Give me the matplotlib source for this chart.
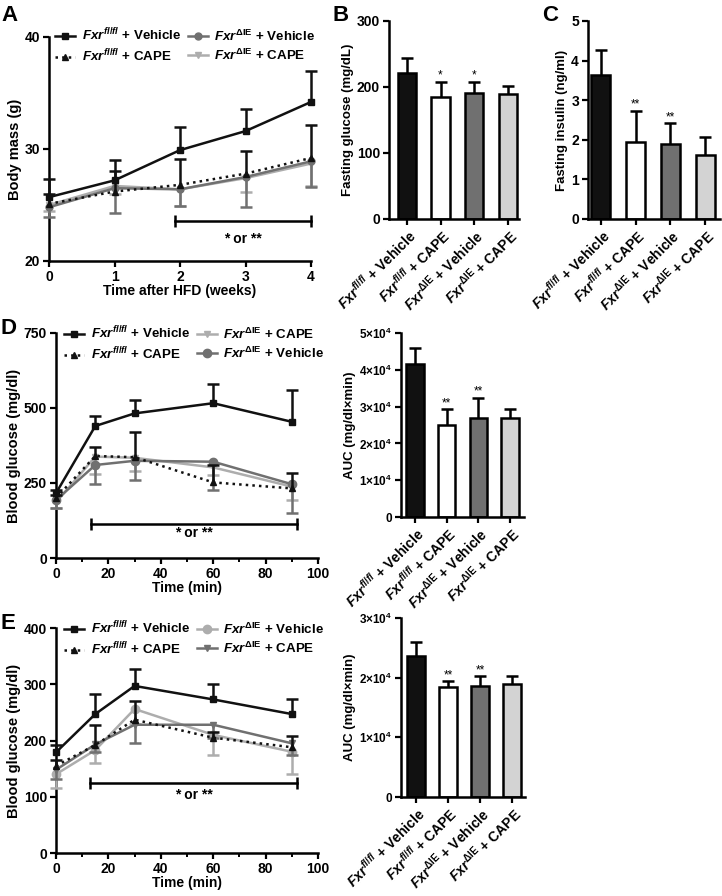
import matplotlib
matplotlib.use('Agg')
import matplotlib.pyplot as plt
import numpy as np
from matplotlib.lines import Line2D
from matplotlib.ticker import FixedLocator, MultipleLocator

plt.rcParams['font.family'] = ['Liberation Sans', 'DejaVu Sans']
plt.rcParams['font.weight'] = 'bold'
plt.rcParams['axes.labelweight'] = 'bold'
plt.rcParams['mathtext.fontset'] = 'custom'
plt.rcParams['mathtext.rm'] = 'Liberation Sans:bold'
plt.rcParams['mathtext.it'] = 'Liberation Sans:italic:bold'
plt.rcParams['mathtext.bf'] = 'Liberation Sans:bold'
plt.rcParams['mathtext.default'] = 'regular'

W, H = 722, 896

# colours
c_black = '#111111'
c_dark = '#707070'
c_light = '#adadad'
bar_colors = ['#111111', '#ffffff', '#707070', '#d3d3d3']

# group names
lab_fl_veh = r'$\mathit{Fxr}^{\mathit{fl/fl}}$ + Vehicle'
lab_fl_cape = r'$\mathit{Fxr}^{\mathit{fl/fl}}$ + CAPE'
lab_ie_veh = r'$\mathit{Fxr}^{\mathrm{ΔIE}}$ + Vehicle'
lab_ie_cape = r'$\mathit{Fxr}^{\mathrm{ΔIE}}$ + CAPE'
bar_labels = [lab_fl_veh, lab_fl_cape, lab_ie_veh, lab_ie_cape]

# ---- A: body mass
weeks = [0, 1, 2, 3, 4]
a_fl_veh = [25.7, 27.2, 29.9, 31.6, 34.2]
a_fl_veh_err = [1.6, 1.8, 2.1, 2.0, 2.8]
a_fl_cape = [25.1, 26.2, 26.8, 27.8, 29.2]
a_fl_cape_err = [0.9, 1.8, 2.3, 2.0, 2.9]
a_ie_veh = [24.8, 26.5, 26.4, 27.5, 28.9]
a_ie_veh_err = [0.9, 2.2, 1.5, 2.7, 2.3]
a_ie_cape = [25.0, 26.7, 26.4, 27.4, 28.7]
a_ie_cape_err = [0.5, 0.7, 1.5, 1.2, 2.0]

# ---- B / C: fasting glucose, insulin
b_glucose = [221.8, 185.5, 190.6, 189.6]
b_glucose_err = [22.0, 22.7, 17.6, 12.0]
b_stars = ['', '*', '*', '']
c_insulin = [3.64, 1.95, 1.89, 1.62]
c_insulin_err = [0.63, 0.78, 0.53, 0.44]
c_stars = ['', '**', '**', '']

# ---- D: GTT
time_min = [0, 15, 30, 60, 90]
d_fl_veh = [216, 440, 482, 516, 454]
d_fl_veh_err = [12, 33, 45, 64, 105]
d_fl_cape = [200, 340, 336, 252, 232]
d_fl_cape_err = [10, 31, 85, 58, 52]
d_ie_cape = [185, 338, 334, 302, 238]
d_ie_cape_err = [18, 59, 44, 25, 45]
d_ie_veh = [193, 310, 324, 321, 246]
d_ie_veh_err = [26, 64, 64, 94, 95]
d_auc = [4.15e4, 2.51e4, 2.70e4, 2.68e4]
d_auc_err = [0.43e4, 0.42e4, 0.54e4, 0.25e4]
d_stars = ['', '**', '**', '']

# ---- E: ITT
e_fl_veh = [179, 247, 297, 273, 247]
e_fl_veh_err = [13, 35, 30, 27, 26]
e_fl_cape = [155, 192, 237, 205, 188]
e_fl_cape_err = [10, 36, 34, 10, 20]
e_ie_veh = [140, 183, 256, 210, 180]
e_ie_veh_err = [25, 23, 26, 35, 40]
e_ie_cape = [148, 193, 228, 228, 195]
e_ie_cape_err = [16, 13, 32, 23, 20]
e_auc = [2.37e4, 1.85e4, 1.86e4, 1.89e4]
e_auc_err = [0.22e4, 0.09e4, 0.16e4, 0.14e4]
e_stars = ['', '**', '**', '']

# significance brackets (x0, x1, y, text y)
a_sig = (1.93, 4.0, 23.6, 22.0)
d_sig = (13.5, 92, 114, 83)
e_sig = (13, 92, 125, 104)

fig = plt.figure(figsize=(W / 100, H / 100), dpi=100)


def rect(l, t, r, b):
    return [l / W, 1 - b / H, (r - l) / W, (b - t) / H]


def style(ax):
    for s in ['top', 'right']:
        ax.spines[s].set_visible(False)
    for s in ['left', 'bottom']:
        ax.spines[s].set_linewidth(1.8)
    ax.tick_params(width=1.6, length=4.5, labelsize=10, pad=2)
    ax.tick_params(which='minor', width=1.4, length=3)


def one_side_err(ax, x, y, err, color, up=True, z=3):
    y = np.array(y, dtype=float)
    e = np.array(err, dtype=float)
    end = y + e if up else y - e
    ax.vlines(x, y, end, color=color, lw=1.8, zorder=z, clip_on=False)
    ax.plot(x, end, ls='none', marker='_', ms=8, mew=1.8, color=color,
            zorder=z, clip_on=False)


def series(ax, x, y, err, color, marker, ls, up, ms, z):
    one_side_err(ax, x, y, err, color, up, z)
    ax.plot(x, y, color=color, marker=marker, ls=ls, lw=1.8, ms=ms,
            zorder=z + 0.5, clip_on=False)
    return Line2D([], [], color=color, marker=marker, ls=ls, lw=1.8, ms=ms)


def sig(ax, spec):
    x0, x1, y, ty = spec
    ax.plot([x0, x1], [y, y], color='black', lw=1.8, marker='|', ms=8,
            mew=1.8, clip_on=False)
    ax.text((x0 + x1) / 2, ty, '* or **', ha='center', va='center',
            fontsize=10)


def bars(ax, vals, errs, stars, ylim, xlim):
    x = np.arange(len(vals))
    ax.bar(x, vals, width=0.55, color=bar_colors, edgecolor='black',
           linewidth=1.8, zorder=2)
    one_side_err(ax, x, vals, errs, 'black', True, 3)
    for xi, v, e, s in zip(x, vals, errs, stars):
        if s:
            ax.text(xi, v + e, s, ha='center', va='bottom', fontsize=8.5,
                    fontweight='normal')
    ax.set_xticks(x)
    ax.set_xticklabels(bar_labels, rotation=45, ha='right',
                       rotation_mode='anchor', fontsize=7.9)
    ax.set_xlim(*xlim)
    ax.set_ylim(*ylim)
    style(ax)
    ax.tick_params(axis='x', pad=1)


def legend(ax, handles, labels, x, y):
    fig.legend(handles, labels, loc='upper left',
               bbox_to_anchor=(x / W, 1 - y / H), ncol=2, frameon=False,
               fontsize=9.6, handlelength=1.5, handletextpad=0.5,
               columnspacing=0.5, labelspacing=0.3, borderpad=0,
               borderaxespad=0)


# ---------- panel A
ax = fig.add_axes(rect(49, 37, 311, 261))
h1 = series(ax, weeks, a_ie_cape, a_ie_cape_err, c_light, 'v', '-', False, 5, 3)
h2 = series(ax, weeks, a_ie_veh, a_ie_veh_err, c_dark, 'o', '-', False, 5, 4)
h3 = series(ax, weeks, a_fl_cape, a_fl_cape_err, c_black, '^', ':', True, 4, 5)
h4 = series(ax, weeks, a_fl_veh, a_fl_veh_err, c_black, 's', '-', True, 5, 6)
ax.set_xlim(0, 4)
ax.set_ylim(20, 40)
ax.set_xticks(weeks)
ax.set_yticks([20, 30, 40])
ax.set_xlabel('Time after HFD (weeks)', fontsize=10, labelpad=0)
ax.set_ylabel('Body mass (g)', fontsize=10.5, labelpad=2)
style(ax)
sig(ax, a_sig)
legend(ax, [h4, h3, h2, h1], [lab_fl_veh, lab_fl_cape, lab_ie_veh, lab_ie_cape], 55, 27)
fig.text(1 / W, 1 - 5 / H, 'A', fontsize=16, va='top', ha='left')

# ---------- panel B
ax = fig.add_axes(rect(389, 21, 519, 219))
bars(ax, b_glucose, b_glucose_err, b_stars, (0, 300), (-0.53, 3.33))
ax.set_yticks([0, 100, 200, 300])
ax.set_ylabel('Fasting glucose (mg/dL)', fontsize=9.5, labelpad=2)
fig.text(333 / W, 1 - 5 / H, 'B', fontsize=16, va='top', ha='left')

# ---------- panel C
ax = fig.add_axes(rect(588, 21, 720, 219))
bars(ax, c_insulin, c_insulin_err, c_stars, (0, 5), (-0.37, 3.43))
ax.set_yticks([0, 1, 2, 3, 4, 5])
ax.set_ylabel('Fasting insulin (ng/ml)', fontsize=9.5, labelpad=2)
fig.text(542 / W, 1 - 5 / H, 'C', fontsize=16, va='top', ha='left')

# ---------- panel D
ax = fig.add_axes(rect(56, 333, 318, 558))
h1 = series(ax, time_min, d_ie_cape, d_ie_cape_err, c_light, 'v', '-', False, 5, 3)
h2 = series(ax, time_min, d_ie_veh, d_ie_veh_err, c_dark, 'o', '-', False, 6, 4)
h3 = series(ax, time_min, d_fl_cape, d_fl_cape_err, c_black, '^', ':', True, 4, 5)
h4 = series(ax, time_min, d_fl_veh, d_fl_veh_err, c_black, 's', '-', True, 5, 6)
ax.set_xlim(0, 100)
ax.set_ylim(0, 750)
ax.set_xticks([0, 20, 40, 60, 80, 100])
ax.xaxis.set_minor_locator(MultipleLocator(10))
ax.set_yticks([0, 250, 500, 750])
ax.set_xlabel('Time (min)', fontsize=10, labelpad=0)
ax.set_ylabel('Blood glucose (mg/dl)', fontsize=10.5, labelpad=2)
style(ax)
sig(ax, d_sig)
legend(ax, [h4, h3, h1, h2], [lab_fl_veh, lab_fl_cape, lab_ie_cape, lab_ie_veh], 64, 325)
fig.text(1 / W, 1 - 318 / H, 'D', fontsize=16, va='top', ha='left')

ax = fig.add_axes(rect(401, 333, 524, 517))
bars(ax, d_auc, d_auc_err, d_stars, (0, 5e4), (-0.44, 3.44))
ax.yaxis.set_major_locator(FixedLocator([0, 1e4, 2e4, 3e4, 4e4, 5e4]))
ax.set_yticklabels(['0'] + [f'{i}×10$^{{4}}$' for i in range(1, 6)])
ax.tick_params(axis='y', labelsize=8.5)
ax.set_ylabel('AUC (mg/dl×min)', fontsize=9.5, labelpad=2)

# ---------- panel E
ax = fig.add_axes(rect(56, 628, 318, 853))
h1 = series(ax, time_min, e_ie_veh, e_ie_veh_err, c_light, 'o', '-', False, 6, 3)
h2 = series(ax, time_min, e_ie_cape, e_ie_cape_err, c_dark, 'v', '-', False, 5, 4)
h3 = series(ax, time_min, e_fl_cape, e_fl_cape_err, c_black, '^', ':', True, 4, 5)
h4 = series(ax, time_min, e_fl_veh, e_fl_veh_err, c_black, 's', '-', True, 5, 6)
ax.set_xlim(0, 100)
ax.set_ylim(0, 400)
ax.set_xticks([0, 20, 40, 60, 80, 100])
ax.xaxis.set_minor_locator(MultipleLocator(10))
ax.set_yticks([0, 100, 200, 300, 400])
ax.set_xlabel('Time (min)', fontsize=10, labelpad=0)
ax.set_ylabel('Blood glucose (mg/dl)', fontsize=10.5, labelpad=2)
style(ax)
sig(ax, e_sig)
legend(ax, [h4, h3, h1, h2], [lab_fl_veh, lab_fl_cape, lab_ie_veh, lab_ie_cape], 64, 620)
fig.text(1 / W, 1 - 613 / H, 'E', fontsize=16, va='top', ha='left')

ax = fig.add_axes(rect(401, 618, 525, 797))
bars(ax, e_auc, e_auc_err, e_stars, (0, 3e4), (-0.47, 3.41))
ax.yaxis.set_major_locator(FixedLocator([0, 1e4, 2e4, 3e4]))
ax.set_yticklabels(['0'] + [f'{i}×10$^{{4}}$' for i in range(1, 4)])
ax.tick_params(axis='y', labelsize=8.5)
ax.set_ylabel('AUC (mg/dl×min)', fontsize=9.5, labelpad=2)

fig.savefig('out.png', dpi=100)
